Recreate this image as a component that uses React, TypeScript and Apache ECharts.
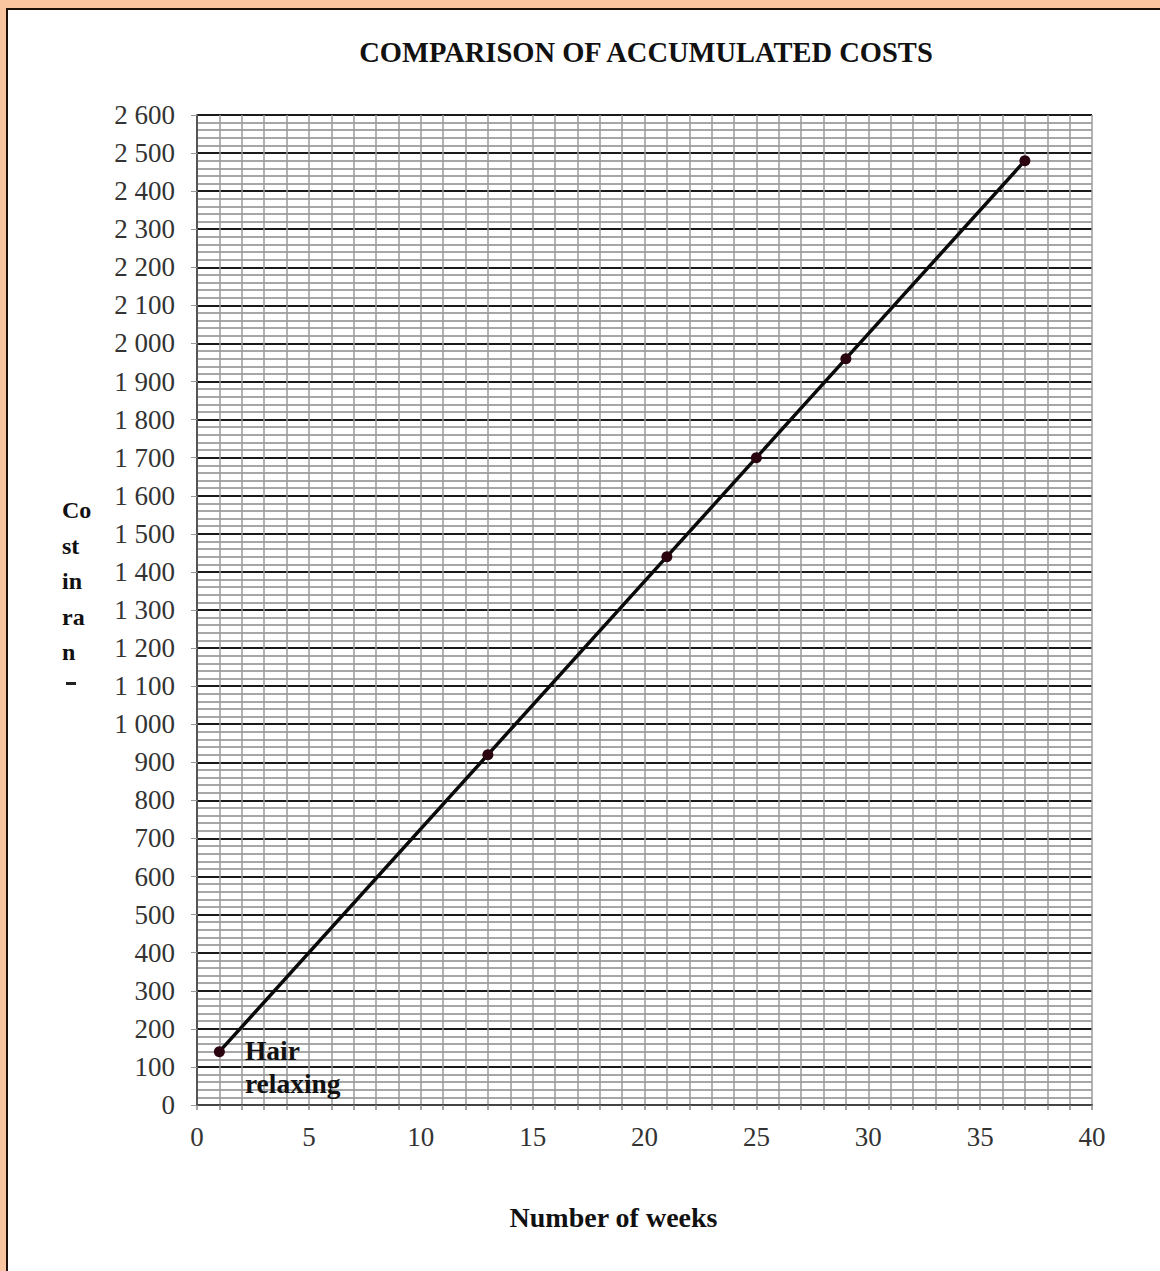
import React, { useEffect, useRef } from "react";
import * as echarts from "echarts";

const weeks: number[] = [1, 13, 21, 25, 29, 37];
const costs: number[] = [140, 920, 1440, 1700, 1960, 2480];
const titleText = "COMPARISON OF ACCUMULATED COSTS";
const xAxisName = "Number of weeks";
const yNameLines: string[] = ["Co", "st", "in", "ra", "n"];
const pointLabel = "Hair\nrelaxing";

const SERIF = "'Liberation Serif', 'Times New Roman', serif";

function fmtThousands(v: number): string {
  if (v >= 1000) {
    const th = Math.floor(v / 1000);
    const rest = String(v % 1000).padStart(3, "0");
    return `${th} ${rest}`;
  }
  return String(v);
}

export default function App() {
  const ref = useRef<HTMLDivElement>(null);

  useEffect(() => {
    if (!ref.current) return;
    const chart = echarts.init(ref.current, undefined, { renderer: "svg" });
    const pts = weeks.map((w, i) => {
      if (i === 0) {
        return {
          value: [w, costs[i]],
          label: {
            show: true,
            position: "right",
            distance: 20,
            offset: [0, 15],
            formatter: pointLabel,
            fontFamily: SERIF,
            fontWeight: "bold",
            fontSize: 27.5,
            lineHeight: 33,
            color: "#111",
          },
        };
      }
      return { value: [w, costs[i]] };
    });

    const yNameGraphics = yNameLines.map((t, i) => ({
      type: "text",
      left: 62,
      top: 498 + i * 35.5,
      style: {
        text: t,
        font: `bold 24px ${SERIF}`,
        fill: "#111",
      },
    }));

    chart.setOption({
      animation: false,
      title: {
        text: titleText,
        left: 641,
        top: 33,
        textAlign: "center",
        textStyle: {
          fontFamily: SERIF,
          fontWeight: "bold",
          fontSize: 28.5,
          color: "#111",
        },
      },
      grid: { left: 197, right: 68, top: 115, bottom: 166, containLabel: false },
      xAxis: {
        type: "value",
        min: 0,
        max: 40,
        interval: 5,
        name: xAxisName,
        nameLocation: "middle",
        nameGap: 98,
        nameTextStyle: {
          fontFamily: SERIF,
          fontWeight: "bold",
          fontSize: 28,
          color: "#111",
          padding: [0, 62, 0, 0],
        },
        axisLine: { show: true, onZero: false, lineStyle: { color: "#444", width: 2 } },
        axisTick: { show: true, length: 5, lineStyle: { color: "#888", width: 1.5 } },
        axisLabel: {
          margin: 18,
          fontFamily: SERIF,
          fontSize: 27,
          color: "#333",
        },
        splitLine: { show: true, lineStyle: { color: "#9a9a9a", width: 1.5 } },
        minorTick: { show: true, splitNumber: 5, length: 5, lineStyle: { color: "#888", width: 1.5 } },
        minorSplitLine: { show: true, lineStyle: { color: "#9a9a9a", width: 1.5 } },
      },
      yAxis: {
        type: "value",
        min: 0,
        max: 2600,
        interval: 100,
        axisLine: { show: true, onZero: false, lineStyle: { color: "#555", width: 2 } },
        axisTick: { show: true, length: 6, lineStyle: { color: "#999", width: 1 } },
        axisLabel: {
          margin: 22,
          fontFamily: SERIF,
          fontSize: 27,
          color: "#333",
          formatter: (v: number) => fmtThousands(v),
        },
        splitLine: { show: true, lineStyle: { color: "#1a1a1a", width: 2 } },
        minorTick: { show: false, splitNumber: 5 },
        minorSplitLine: { show: true, lineStyle: { color: "#8a8a8a", width: 1.5 } },
      },
      graphic: [
        ...yNameGraphics,
        {
          type: "rect",
          left: 66,
          top: 682,
          shape: { width: 10, height: 3 },
          style: { fill: "#222" },
        },
      ],
      series: [
        {
          type: "line",
          data: pts,
          symbol: "circle",
          symbolSize: 11,
          lineStyle: { color: "#0a0a0a", width: 3.5 },
          itemStyle: { color: "#2a0510" },
          z: 5,
        },
      ],
    });
    return () => chart.dispose();
  }, []);

  return (
    <div
      style={{
        position: "absolute",
        left: 0,
        top: 0,
        width: 1160,
        height: 1271,
        background: "#F8C5A0",
        overflow: "hidden",
      }}
    >
      <div
        style={{
          position: "absolute",
          left: 6,
          top: 8,
          right: 0,
          bottom: 0,
          background: "#ffffff",
          borderTop: "2px solid #1a1008",
          borderLeft: "2px solid #1a1008",
        }}
      />
      <div
        ref={ref}
        style={{ position: "absolute", left: 0, top: 0, width: 1160, height: 1271 }}
      />
    </div>
  );
}
